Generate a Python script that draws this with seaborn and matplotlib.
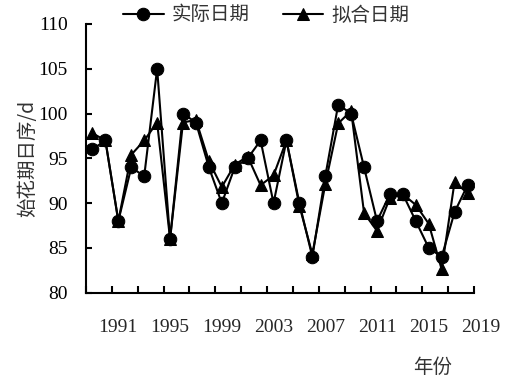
import numpy as np
import pandas as pd
import matplotlib
matplotlib.use('Agg')
import matplotlib.pyplot as plt
import seaborn as sns

years = list(range(1989, 2019))
actual = [96, 97, 88, 94, 93, 105, 86, 100, 99, 94,
          90, 94, 95, 97, 90, 97, 90, 84, 93, 101,
          100, 94, 88, 91, 91, 88, 85, 84, 89, 92]
fitted = [97.8, 97, 88, 95.4, 97, 99, 86, 99, 99.3, 94.7,
          91.8, 94.3, 95.2, 92, 93.1, 97, 89.7, 84.3, 92.1, 98.9,
          100.3, 88.9, 86.9, 90.6, 91, 89.8, 87.7, 82.6, 92.4, 91.1]
year_labels = [1991, 1995, 1999, 2003, 2007, 2011, 2015, 2019]
series_names = ['实际日期', '拟合日期']

df = pd.DataFrame({'年份': years, series_names[0]: actual, series_names[1]: fitted})

sns.set_style('white')
plt.rcParams['font.family'] = ['Liberation Serif', 'Noto Sans CJK SC']
cjk = ['Noto Sans CJK SC', 'DejaVu Sans']
txt_color = '#333333'

fig = plt.figure(figsize=(5.18, 3.91), dpi=100)
ax = fig.add_axes([86/518, 1-292.7/391, 388/518, 268.7/391])

sns.lineplot(data=df, x='年份', y=series_names[0], ax=ax, color='black', lw=1.5,
             marker='o', markersize=9, markeredgecolor='black', label=series_names[0])
sns.lineplot(data=df, x='年份', y=series_names[1], ax=ax, color='black', lw=1.5,
             marker='^', markersize=9, markeredgecolor='black', label=series_names[1])

ax.set_xlim(years[0] - 0.5, years[-1] + 0.5)
ax.set_ylim(80, 110)
ax.set_yticks(range(80, 111, 5))
ax.set_xticks(np.arange(years[0] - 0.5, years[-1] + 0.6, 2))
ax.set_xticklabels([])
ax.tick_params(axis='y', left=True, direction='in', length=4.5, width=1.5, pad=13,
               labelsize=14, colors='black')
ax.tick_params(axis='x', bottom=True, direction='in', length=5, width=1.5, labelsize=14,
               colors='black')
for s in ['top', 'right']:
    ax.spines[s].set_visible(False)
for s in ['left', 'bottom']:
    ax.spines[s].set_color('black')
    ax.spines[s].set_linewidth(1.5)

for yr in year_labels:
    ax.text(yr, -0.131, str(yr), transform=ax.get_xaxis_transform(),
            ha='center', va='center', fontsize=14, clip_on=False)

ax.set_xlabel('')
ax.set_ylabel('始花期日序/d', fontsize=14, color=txt_color, family=cjk)
ax.yaxis.set_label_coords(-0.15, 0.5)
ax.yaxis.label.set_va('center')
ax.text(0.894, -0.2765, '年份', transform=ax.transAxes, ha='center', va='center',
        fontsize=14, color=txt_color, family=cjk)

leg = ax.legend(loc='center', bbox_to_anchor=(266/518, 1-15/391), bbox_transform=fig.transFigure,
                ncol=2, frameon=False, numpoints=1, handlelength=2.1, handletextpad=0.4,
                columnspacing=1.7, prop={'family': cjk, 'size': 14})
for t in leg.get_texts():
    t.set_color(txt_color)

fig.savefig('out.png', dpi=100)
